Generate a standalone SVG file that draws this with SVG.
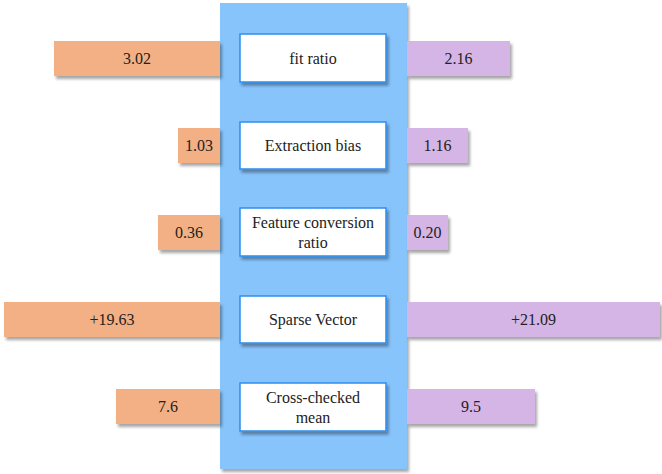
<svg xmlns="http://www.w3.org/2000/svg" width="662" height="474" viewBox="0 0 662 474">
  <defs>
    <filter id="shadow" x="-10%" y="-10%" width="130%" height="130%">
      <feDropShadow dx="2" dy="3" stdDeviation="1.5" flood-color="#000" flood-opacity="0.35"/>
    </filter>
  </defs>
  <style>
    .panel { fill: #88c4fc; filter: url(#shadow); }
    .node { fill: #ffffff; stroke: #2b8ef0; stroke-width: 1.5; filter: url(#shadow); }
    .left { fill: #f2b084; filter: url(#shadow); }
    .right { fill: #d4b5e6; filter: url(#shadow); }
    text { font-family: "Liberation Serif", "Times New Roman", serif; font-size: 16px; fill: #222; text-anchor: middle; dominant-baseline: central; }
  </style>
  <rect width="662" height="474" fill="#ffffff"/>

  <!-- central column -->
  <rect class="panel" x="220" y="3" width="187" height="466"/>

  <!-- value bars -->
  <g id="bars">
    <g id="row1-values">
      <rect class="left" x="54" y="41" width="166" height="35"/>
      <text x="137" y="58.5">3.02</text>
      <rect class="right" x="407" y="41" width="103" height="35"/>
      <text x="458.5" y="58.5">2.16</text>
    </g>
    <g id="row2-values">
      <rect class="left" x="178" y="128" width="42" height="35"/>
      <text x="199" y="145.5">1.03</text>
      <rect class="right" x="407" y="128" width="61" height="35"/>
      <text x="437.5" y="145.5">1.16</text>
    </g>
    <g id="row3-values">
      <rect class="left" x="158" y="215" width="62" height="35"/>
      <text x="189" y="232.5">0.36</text>
      <rect class="right" x="407" y="215" width="41" height="35"/>
      <text x="427.5" y="232.5">0.20</text>
    </g>
    <g id="row4-values">
      <rect class="left" x="4" y="302" width="216" height="35"/>
      <text x="112" y="319.5">+19.63</text>
      <rect class="right" x="407" y="302" width="253" height="35"/>
      <text x="533.5" y="319.5">+21.09</text>
    </g>
    <g id="row5-values">
      <rect class="left" x="116" y="389" width="104" height="35"/>
      <text x="168" y="406.5">7.6</text>
      <rect class="right" x="407" y="389" width="128" height="35"/>
      <text x="471" y="406.5">9.5</text>
    </g>
  </g>

  <!-- metric nodes -->
  <g id="node-fit-ratio">
    <rect class="node" x="240" y="34" width="146" height="48"/>
    <text x="313" y="58">fit ratio</text>
  </g>
  <g id="node-extraction-bias">
    <rect class="node" x="240" y="122" width="146" height="47"/>
    <text x="313" y="145.5">Extraction bias</text>
  </g>
  <g id="node-feature-conversion">
    <rect class="node" x="240" y="208" width="146" height="48"/>
    <text x="313" y="222.5">Feature conversion</text>
    <text x="313" y="242">ratio</text>
  </g>
  <g id="node-sparse-vector">
    <rect class="node" x="240" y="296" width="146" height="47"/>
    <text x="313" y="319.5">Sparse Vector</text>
  </g>
  <g id="node-cross-checked">
    <rect class="node" x="240" y="383" width="146" height="48"/>
    <text x="313" y="397.5">Cross-checked</text>
    <text x="313" y="417">mean</text>
  </g>
</svg>
